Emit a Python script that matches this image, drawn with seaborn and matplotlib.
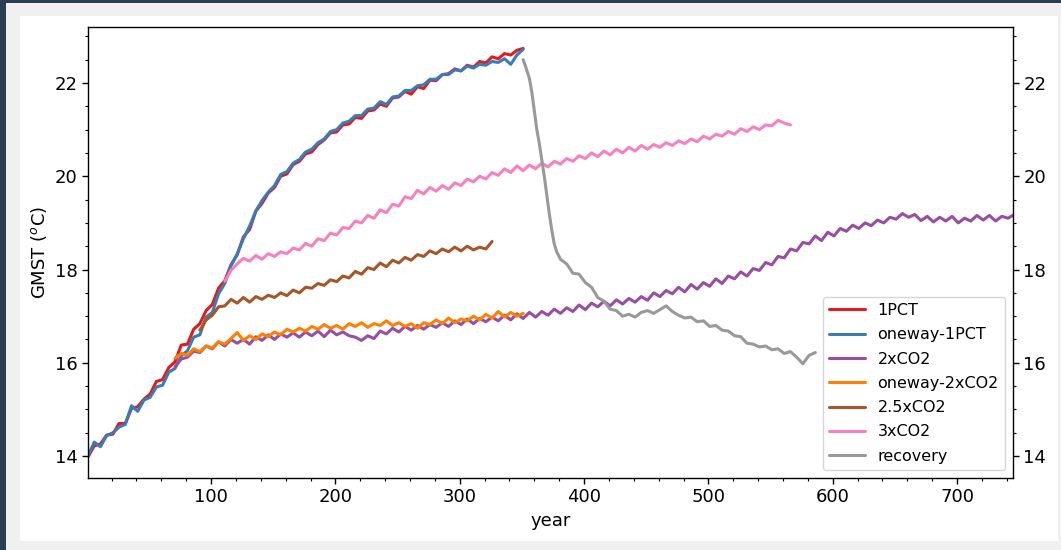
import numpy as np
import pandas as pd
import matplotlib
matplotlib.use("Agg")
import matplotlib.pyplot as plt
from matplotlib.patches import Rectangle
from matplotlib.ticker import MultipleLocator
import seaborn as sns

# ---------------- data ----------------
run_names = ["1PCT", "oneway-1PCT", "2xCO2", "oneway-2xCO2", "2.5xCO2", "3xCO2", "recovery"]
run_colors = ["#e41a1c", "#377eb8", "#984ea3", "#ff7f00", "#a65628", "#f781bf", "#999999"]

# 5-year samples, first year given separately
pct1_start = 1
pct1_gmst = [13.98, 14.22, 14.26, 14.45, 14.47, 14.7, 14.7, 15.02, 15.06, 15.22, 15.33, 15.6, 15.64, 15.9,
             16.02, 16.38, 16.4, 16.72, 16.84, 17.12, 17.25, 17.6, 17.76, 18.1, 18.32, 18.7, 18.86, 19.25,
             19.42, 19.64, 19.76, 20.0, 20.05, 20.25, 20.32, 20.48, 20.52, 20.68, 20.78, 20.93, 20.95, 21.1,
             21.12, 21.26, 21.24, 21.4, 21.42, 21.55, 21.5, 21.68, 21.7, 21.82, 21.76, 21.92, 21.88, 22.06,
             22.05, 22.18, 22.2, 22.3, 22.26, 22.38, 22.34, 22.46, 22.43, 22.56, 22.52, 22.63, 22.6, 22.7, 22.74]

oneway1_start = 1
oneway1_gmst = [14.0, 14.3, 14.2, 14.44, 14.5, 14.62, 14.68, 15.08, 14.96, 15.2, 15.26, 15.48, 15.52, 15.8,
                15.88, 16.15, 16.26, 16.55, 16.6, 16.98, 17.08, 17.48, 17.7, 18.08, 18.33, 18.66, 18.93, 19.26,
                19.48, 19.66, 19.8, 20.04, 20.1, 20.28, 20.36, 20.52, 20.58, 20.72, 20.8, 20.96, 21.0, 21.14,
                21.18, 21.3, 21.3, 21.44, 21.46, 21.6, 21.54, 21.7, 21.72, 21.84, 21.84, 21.94, 21.96, 22.08,
                22.08, 22.18, 22.18, 22.28, 22.26, 22.36, 22.32, 22.4, 22.38, 22.46, 22.44, 22.52, 22.4, 22.6, 22.72]

co2x2_start = 71
co2x2_gmst = [15.92, 16.08, 16.12, 16.25, 16.22, 16.36, 16.3, 16.45, 16.36, 16.5,
              16.42, 16.5, 16.4, 16.56, 16.48, 16.6, 16.5, 16.62, 16.55, 16.64,
              16.55, 16.66, 16.58, 16.68, 16.56, 16.7, 16.6, 16.66, 16.58, 16.55,
              16.48, 16.58, 16.52, 16.68, 16.62, 16.74, 16.66, 16.78, 16.7, 16.8,
              16.72, 16.82, 16.76, 16.86, 16.78, 16.9, 16.82, 16.94, 16.84, 16.95,
              16.88, 16.98, 16.9, 17.02, 16.92, 17.05, 16.95, 17.08, 16.98, 17.1,
              17.02, 17.15, 17.06, 17.18, 17.1, 17.24, 17.14, 17.28, 17.2, 17.32,
              17.22, 17.35, 17.26, 17.38, 17.3, 17.42, 17.34, 17.5, 17.42, 17.55,
              17.48, 17.62, 17.52, 17.68, 17.58, 17.72, 17.64, 17.8, 17.7, 17.86,
              17.8, 17.95, 17.86, 18.02, 17.98, 18.15, 18.1, 18.28, 18.25, 18.44,
              18.4, 18.58, 18.55, 18.72, 18.62, 18.8, 18.72, 18.88, 18.82, 18.95,
              18.88, 19.0, 18.94, 19.06, 19.0, 19.12, 19.08, 19.2, 19.12, 19.18,
              19.05, 19.14, 19.02, 19.12, 19.04, 19.14, 19.0, 19.1, 19.04, 19.16,
              19.06, 19.16, 19.04, 19.14, 19.1, 19.18]

oneway2_start = 71
oneway2_gmst = [16.1, 16.2, 16.16, 16.3, 16.24, 16.36, 16.32, 16.45, 16.4, 16.52,
                16.65, 16.48, 16.58, 16.5, 16.62, 16.56, 16.66, 16.6, 16.72, 16.66,
                16.74, 16.68, 16.78, 16.72, 16.82, 16.74, 16.8, 16.72, 16.84, 16.78,
                16.86, 16.76, 16.84, 16.8, 16.9, 16.8, 16.86, 16.78, 16.84, 16.74,
                16.86, 16.82, 16.92, 16.84, 16.96, 16.86, 16.94, 16.9, 17.0, 16.92,
                17.04, 16.96, 17.1, 16.98, 17.08, 17.0, 17.06]

co2x25_start = 91
co2x25_gmst = [16.7, 16.92, 17.02, 17.2, 17.22, 17.36, 17.28, 17.4, 17.3, 17.42,
               17.36, 17.45, 17.4, 17.5, 17.44, 17.56, 17.5, 17.62, 17.6, 17.7,
               17.66, 17.78, 17.74, 17.86, 17.82, 17.96, 17.9, 18.04, 18.0, 18.14,
               18.06, 18.2, 18.14, 18.26, 18.2, 18.32, 18.28, 18.4, 18.34, 18.44,
               18.38, 18.48, 18.4, 18.5, 18.42, 18.48, 18.44, 18.6]

co2x3_start = 111
co2x3_gmst = [17.75, 17.98, 18.12, 18.24, 18.18, 18.3, 18.22, 18.34, 18.28, 18.38,
              18.34, 18.46, 18.42, 18.56, 18.5, 18.66, 18.62, 18.78, 18.74, 18.9,
              18.88, 19.04, 19.0, 19.16, 19.1, 19.28, 19.22, 19.4, 19.36, 19.56,
              19.52, 19.7, 19.62, 19.76, 19.68, 19.8, 19.72, 19.86, 19.8, 19.94,
              19.88, 20.0, 19.94, 20.08, 20.02, 20.16, 20.08, 20.22, 20.12, 20.24,
              20.16, 20.28, 20.2, 20.32, 20.26, 20.38, 20.32, 20.44, 20.38, 20.5,
              20.42, 20.54, 20.46, 20.58, 20.5, 20.62, 20.54, 20.66, 20.58, 20.68,
              20.62, 20.72, 20.66, 20.76, 20.7, 20.8, 20.74, 20.86, 20.8, 20.9,
              20.86, 20.96, 20.9, 21.02, 20.96, 21.06, 21.0, 21.1, 21.08, 21.2,
              21.14, 21.1]

recovery_year = [351, 353, 356, 358, 360, 362, 364, 366, 368, 370,
                 372, 374, 376, 378, 381, 386, 391, 396, 401, 406,
                 411, 416, 421, 426, 431, 436, 441, 446, 451, 456,
                 461, 466, 471, 476, 481, 486, 491, 496, 501, 506,
                 511, 516, 521, 526, 531, 536, 541, 546, 551, 556,
                 561, 566, 571, 576, 581, 586]
recovery_gmst = [22.5, 22.35, 22.1, 21.8, 21.4, 21.0, 20.7, 20.35, 20.0, 19.6,
                 19.2, 18.85, 18.55, 18.38, 18.22, 18.12, 17.92, 17.9, 17.72, 17.62,
                 17.4, 17.32, 17.15, 17.12, 17.0, 17.04, 16.98, 17.08, 17.12, 17.06,
                 17.14, 17.22, 17.1, 17.02, 16.96, 16.98, 16.88, 16.9, 16.78, 16.8,
                 16.7, 16.68, 16.58, 16.56, 16.42, 16.4, 16.34, 16.36, 16.28, 16.3,
                 16.2, 16.24, 16.12, 15.98, 16.16, 16.22]

y_ticks = [14, 16, 18, 20, 22]
x_ticks = [100, 200, 300, 400, 500, 600, 700]

# ---------------- build long-form table ----------------
def sampled(start, vals):
    return [start + 5 * i for i in range(len(vals))]

frames = []
series = [
    ("1PCT", sampled(pct1_start, pct1_gmst), pct1_gmst),
    ("oneway-1PCT", sampled(oneway1_start, oneway1_gmst), oneway1_gmst),
    ("2xCO2", sampled(co2x2_start, co2x2_gmst), co2x2_gmst),
    ("oneway-2xCO2", sampled(oneway2_start, oneway2_gmst), oneway2_gmst),
    ("2.5xCO2", sampled(co2x25_start, co2x25_gmst), co2x25_gmst),
    ("3xCO2", sampled(co2x3_start, co2x3_gmst), co2x3_gmst),
    ("recovery", recovery_year, recovery_gmst),
]
for name, yrs, vals in series:
    frames.append(pd.DataFrame({"year": yrs, "GMST": vals, "run": name}))
df = pd.concat(frames, ignore_index=True)

# ---------------- plot ----------------
sns.set_style("ticks")
plt.rcParams["font.family"] = ["DejaVu Sans"]
plt.rcParams["xtick.direction"] = "out"
plt.rcParams["ytick.direction"] = "out"
for key in ["text.color", "axes.labelcolor", "xtick.color", "ytick.color"]:
    plt.rcParams[key] = "black"

W, H = 1061, 550
fig = plt.figure(figsize=(W / 100, H / 100), dpi=100, facecolor="#f0f0f0")
# page frame decoration
fig.patches.append(Rectangle((20 / W, 1 - 541 / H), 1038 / W, 525 / H,
                             transform=fig.transFigure, facecolor="white", edgecolor="none", zorder=-10))
fig.patches.append(Rectangle((0, 0), 6 / W, 1, transform=fig.transFigure,
                             facecolor="#2b3e50", edgecolor="none", zorder=-9))
fig.patches.append(Rectangle((0, 1 - 3 / H), 1, 3 / H, transform=fig.transFigure,
                             facecolor="#2b3e50", edgecolor="none", zorder=-9))

ax = fig.add_axes([88 / W, 1 - 478 / H, (1013 - 88) / W, (478 - 27) / H])
ax.set_facecolor("white")

sns.lineplot(data=df, x="year", y="GMST", hue="run", hue_order=run_names,
             palette=dict(zip(run_names, run_colors)), estimator=None, sort=False,
             linewidth=2.2, ax=ax)

ax.set_xlim(1, 745)
ax.set_ylim(13.53, 23.2)
ax.set_xticks(x_ticks)
ax.set_yticks(y_ticks)
ax.xaxis.set_minor_locator(MultipleLocator(20))
ax.yaxis.set_minor_locator(MultipleLocator(0.5))
ax.tick_params(axis="both", which="major", labelsize=13, length=4, width=1,
               color="black", labelcolor="black")
ax.tick_params(axis="both", which="minor", length=2.5, width=0.8, color="black")
ax.tick_params(axis="y", which="both", left=True, right=True, labelleft=True, labelright=True)
for s in ax.spines.values():
    s.set_visible(True)
    s.set_color("black")
    s.set_linewidth(1.0)

ax.set_xlabel("year", fontsize=13, color="black")
ax.set_ylabel("GMST ($^o$C)", fontsize=13, color="black")

leg = ax.legend(loc="lower right", fontsize=11.5, frameon=True, handlelength=2.2,
                borderaxespad=0.5, labelspacing=0.58)
for line in leg.get_lines():
    line.set_linewidth(2.2)
for t in leg.get_texts():
    t.set_color("black")
leg.get_frame().set_edgecolor("#cccccc")

fig.savefig("out.png", dpi=100, facecolor=fig.get_facecolor())
